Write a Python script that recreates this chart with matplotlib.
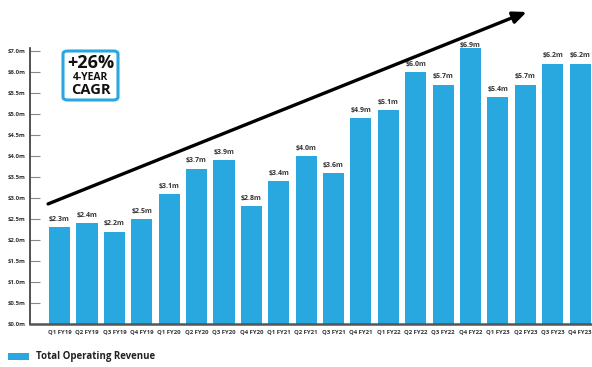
import matplotlib.pyplot as plt
from matplotlib.patches import FancyBboxPatch, Rectangle

quarters = ['Q1 FY19', 'Q2 FY19', 'Q3 FY19', 'Q4 FY19', 'Q1 FY20', 'Q2 FY20', 'Q3 FY20',
            'Q4 FY20', 'Q1 FY21', 'Q2 FY21', 'Q3 FY21', 'Q4 FY21', 'Q1 FY22', 'Q2 FY22',
            'Q3 FY22', 'Q4 FY22', 'Q1 FY23', 'Q2 FY23', 'Q3 FY23', 'Q4 FY23']
revenue = [2.3, 2.4, 2.2, 2.5, 3.1, 3.7, 3.9, 2.8, 3.4, 4.0, 3.6, 4.9, 5.1, 6.0,
           5.7, 6.9, 5.4, 5.7, 6.2, 6.2]
ytick_vals = [0.0, 0.5, 1.0, 1.5, 2.0, 2.5, 3.0, 3.5, 4.0, 4.5, 5.0, 5.5, 6.0, 6.5]
ytick_labels = ['$0.0m', '$0.5m', '$1.0m', '$1.5m', '$2.0m', '$2.5m', '$3.0m', '$3.5m',
                '$4.0m', '$4.5m', '$5.0m', '$5.5m', '$6.0m', '$7.0m']

blue = '#29a8e0'
plt.rcParams['font.family'] = ['Open Sans', 'DejaVu Sans']

fig = plt.figure(figsize=(5.92, 3.67), dpi=100)
ax = fig.add_axes([0.0507, 0.117, 0.95, 0.752])

x = range(len(quarters))
ax.bar(x, revenue, width=0.77, color=blue)
for i, v in enumerate(revenue):
    ax.text(i, min(v, 6.45) + 0.1, '$%.1fm' % v, ha='center', va='bottom', fontsize=5.0,
            fontweight='bold', color='#333333')

ax.set_xlim(-1.08, 19.45)
ax.set_ylim(0, 6.57)
ax.set_xticks(list(x))
ax.set_xticklabels(quarters, fontsize=4.3, fontweight='bold', color='#333333')
ax.set_yticks(ytick_vals)
ax.set_yticklabels(ytick_labels, fontsize=4.3, fontweight='bold', color='#333333')
ax.tick_params(axis='x', length=0, pad=4)
ax.tick_params(axis='y', direction='in', length=7, width=0.8, color='#888888', pad=3)

for s in ['top', 'right']:
    ax.spines[s].set_visible(False)
ax.spines['left'].set_color('#333333')
ax.spines['left'].set_linewidth(1.2)
ax.spines['bottom'].set_color('#555555')
ax.spines['bottom'].set_linewidth(1.8)

# growth arrow
ax.annotate('', xy=(17.05, 7.43), xytext=(-0.42, 2.86), annotation_clip=False,
            arrowprops=dict(arrowstyle='-|>,head_length=0.8,head_width=0.35', lw=2.4,
                            color='black', shrinkA=0, shrinkB=0))

# CAGR badge
box = FancyBboxPatch((63 / 592, 1 - 100 / 367), 55 / 592, 49 / 367,
                     boxstyle='round,pad=0,rounding_size=0.008', transform=fig.transFigure,
                     facecolor='white', edgecolor=blue, linewidth=2.2)
fig.patches.append(box)
fig.text(90.5 / 592, 1 - 63 / 367, '+26%', ha='center', va='center', fontsize=13,
         fontweight='bold', color='#111111')
fig.text(90.5 / 592, 1 - 78 / 367, '4-YEAR', ha='center', va='center', fontsize=7.5,
         fontweight='bold', color='#111111')
fig.text(90.5 / 592, 1 - 90 / 367, 'CAGR', ha='center', va='center', fontsize=10.5,
         fontweight='bold', color='#111111')

# legend
fig.patches.append(Rectangle((8 / 592, 1 - 360 / 367), 21 / 592, 7 / 367,
                             transform=fig.transFigure, facecolor=blue))
fig.text(36 / 592, 1 - 357 / 367, 'Total Operating Revenue', ha='left', va='center',
         fontsize=7, fontweight='bold', color='#222222')

fig.savefig('out.png', dpi=100)
